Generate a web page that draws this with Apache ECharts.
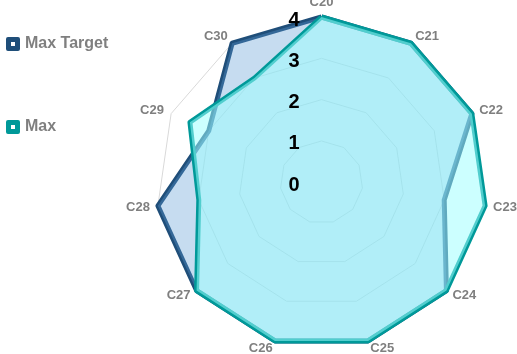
<!DOCTYPE html>
<html><head><meta charset="utf-8">
<script src="https://cdn.jsdelivr.net/npm/echarts@6/dist/echarts.min.js"></script>
<style>html,body{margin:0;padding:0;background:#fff}#c{width:517px;height:354px}</style>
</head><body><div id="c"></div>
<script>
const categories = ['C20','C21','C22','C23','C24','C25','C26','C27','C28','C29','C30'];
const maxTarget = [4,4,4,3,4,4,4,4,4,3,4];
const maxValues = [4,4,4,4,4,4,4,4,3,3.5,3];
const tickLabels = ['0','1','2','3','4'];
const seriesNames = ['Max Target','Max'];

// ECharts radar runs counter-clockwise; reorder so the categories run clockwise
const order = categories.map((c,i)=> i===0 ? 0 : categories.length - i);
const ordered = arr => order.map(i=>arr[i]);

const iconPath = 'path://M2,0H12A2,2,0,0,1,14,2V12A2,2,0,0,1,12,14H2A2,2,0,0,1,0,12V2A2,2,0,0,1,2,0Z M5,5V9H9V5Z';
const radarBase = {radius:165.3, startAngle:90, shape:'polygon', splitNumber:4};
const chart = echarts.init(document.getElementById('c'));
chart.setOption({
  animation:false,
  legend:{
    orient:'vertical', left:6, top:36, padding:0, itemWidth:14, itemHeight:14, itemGap:67,
    icon: iconPath,
    textStyle:{color:'#7f7f7f', fontSize:16, fontWeight:'bold', fontFamily:'Liberation Sans', lineHeight:14},
    data: seriesNames
  },
  radar:[
    Object.assign({}, radarBase, {
      center:[321.5,182.3],
      nameGap:8,
      axisName:{color:'#7f7f7f', fontSize:13, fontWeight:'bold', fontFamily:'Liberation Sans'},
      axisLine:{show:false}, axisTick:{show:false}, axisLabel:{show:false},
      splitLine:{lineStyle:{color:'#d9d9d9', width:1}},
      splitArea:{show:false},
      indicator: ordered(categories).map(c=>({name:c, min:0, max:4}))
    }),
    Object.assign({}, radarBase, {
      center:[321.5,185.3],
      z:10,
      axisName:{show:false},
      axisLine:{show:false}, axisTick:{show:false}, axisLabel:{show:false},
      splitLine:{show:false}, splitArea:{show:false},
      indicator: ordered(categories).map((c,i)=>{
        const o={name:c, min:0, max:4};
        if(i===0){ o.axisLabel={show:true, color:'#000', fontSize:20, fontWeight:'bold', fontFamily:'Liberation Sans', margin:22, formatter:v=>tickLabels[Math.round(v)]}; }
        return o;
      })
    })
  ],
  series:[
    {type:'radar', name:seriesNames[0], radarIndex:0, symbol:'none', z:2,
     itemStyle:{color:'#1f4e79'},
     lineStyle:{color:'#1f4e79', width:5},
     areaStyle:{color:'rgba(91,155,213,0.35)', opacity:1},
     data:[{name:seriesNames[0], value:ordered(maxTarget)}]},
    {type:'radar', name:seriesNames[1], radarIndex:0, symbol:'none', z:3,
     itemStyle:{color:'#009999'},
     lineStyle:{color:'#009999', width:5},
     areaStyle:{color:'rgba(157,255,255,0.52)', opacity:1},
     data:[{name:seriesNames[1], value:ordered(maxValues)}]}
  ]
});
</script></body></html>
